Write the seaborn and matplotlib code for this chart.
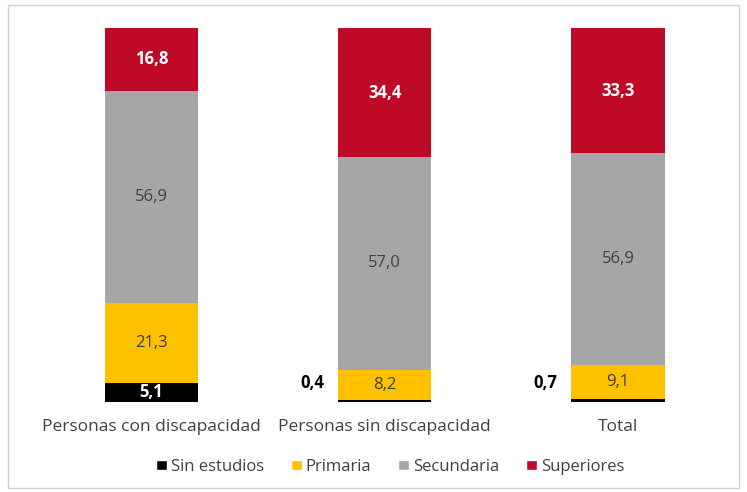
import numpy as np
import pandas as pd
import seaborn as sns
import matplotlib
matplotlib.use('Agg')
import matplotlib.pyplot as plt
from matplotlib.patches import Patch, Rectangle

categories = ["Personas con discapacidad", "Personas sin discapacidad", "Total"]
levels = ["Sin estudios", "Primaria", "Secundaria", "Superiores"]
sin_estudios = [5.1, 0.4, 0.7]
primaria = [21.3, 8.2, 9.1]
secundaria = [56.9, 57.0, 56.9]
superiores = [16.8, 34.4, 33.3]

colors = ["#000000", "#FFC000", "#A6A6A6", "#BE0A26"]
text_colors = ["white", "#3A3A3A", "#404040", "white"]

df = pd.DataFrame({"cat": categories, "Sin estudios": sin_estudios, "Primaria": primaria,
                   "Secundaria": secundaria, "Superiores": superiores})

sns.set_style("white")
plt.rcParams['font.family'] = ['Open Sans', 'DejaVu Sans']

fig = plt.figure(figsize=(7.47, 4.92), dpi=100)
ax = fig.add_axes([0.0465, 0.183, 0.937, 0.76])

bottom = np.zeros(len(categories))
for lev, col, tcol in zip(levels, colors, text_colors):
    vals = df[lev].values
    sns.barplot(data=df, x="cat", y=lev, color=col, bottom=bottom, width=0.40,
                saturation=1, ax=ax, edgecolor="none")
    for i, v in enumerate(vals):
        lbl = f"{v:.1f}".replace(".", ",")
        if v < 2:
            # tiny segment: label sits left of the bar
            ax.text(i - 0.31, 5, lbl, ha="center", va="center",
                    fontsize=12, fontweight="bold", color="black")
        else:
            ax.text(i, bottom[i] + v / 2, lbl, ha="center", va="center", fontsize=12,
                    fontweight="bold" if tcol == "white" else "normal", color=tcol)
    bottom = bottom + vals

ax.set_xlim(-0.5, 2.5)
ax.set_ylim(0, 100.1)
ax.set_xlabel("")
ax.set_ylabel("")
ax.set_yticks([])
sns.despine(ax=ax, left=True, bottom=True)
ax.tick_params(axis="x", length=0, pad=12, labelsize=12.5, labelcolor="#404040")

handles = [Patch(facecolor=c, label=l) for c, l in zip(colors, levels)]
fig.legend(handles=handles, loc="center", bbox_to_anchor=(0.522, 0.051), ncol=4, frameon=False,
           handlelength=0.7, handleheight=0.5, handletextpad=0.2, columnspacing=1.6,
           fontsize=12, labelcolor="#404040")

fig.patches.append(Rectangle((0.011, 0.008), 0.978, 0.982, transform=fig.transFigure,
                             fill=False, edgecolor="#D0D0D0", linewidth=1))

plt.savefig("out.png", dpi=100)
